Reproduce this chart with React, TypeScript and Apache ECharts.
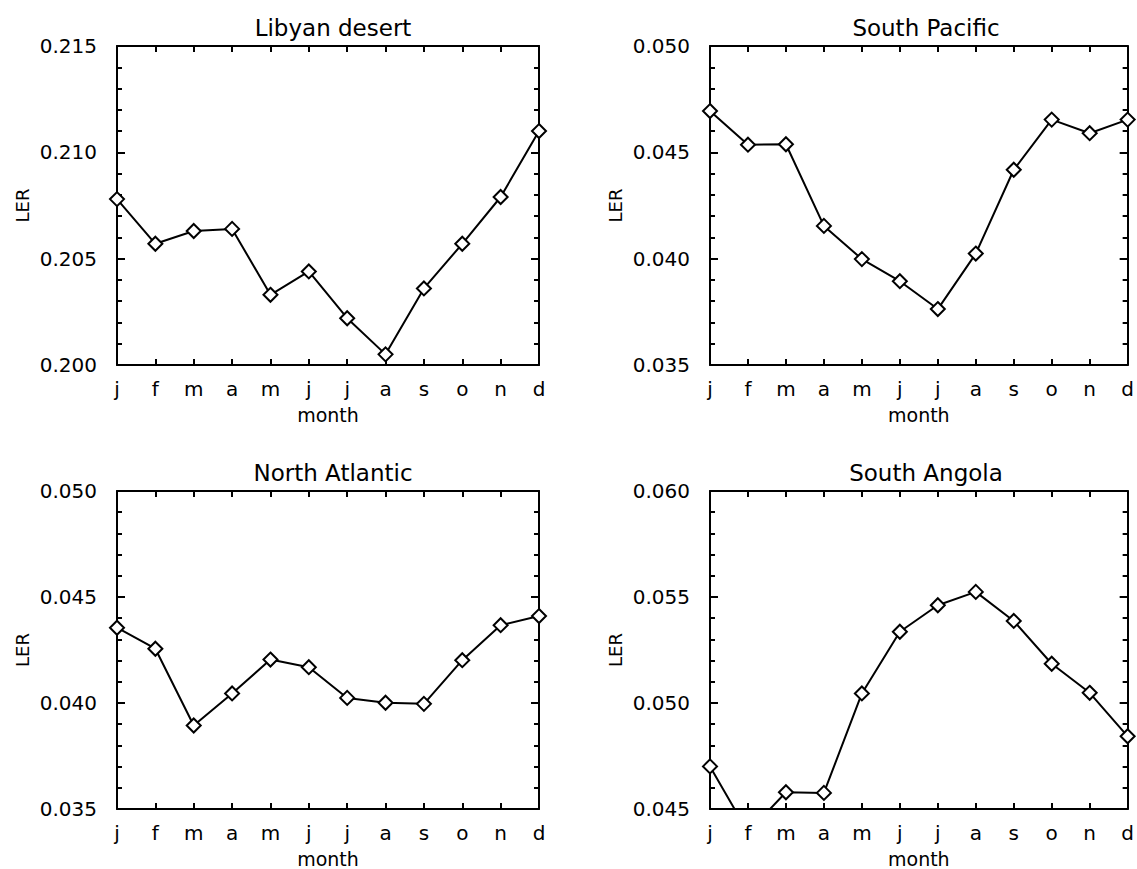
import React, { useEffect, useRef } from "react";
import * as echarts from "echarts";

const months = ["j", "f", "m", "a", "m", "j", "j", "a", "s", "o", "n", "d"];

const titles = ["Libyan desert", "South Pacific", "North Atlantic", "South Angola"];

const libyan = [0.2078, 0.2057, 0.2063, 0.2064, 0.2033, 0.2044, 0.2022, 0.2005, 0.2036, 0.2057, 0.2079, 0.211];
const southPacific = [0.04694, 0.04536, 0.04538, 0.04154, 0.03998, 0.03894, 0.03763, 0.04024, 0.04418, 0.04654, 0.0459, 0.04654];
const northAtlantic = [0.04355, 0.04256, 0.03894, 0.04045, 0.04205, 0.04169, 0.04024, 0.04001, 0.03996, 0.04202, 0.04367, 0.0441];
const southAngola = [0.04701, 0.0439, 0.04579, 0.04576, 0.05045, 0.05336, 0.05461, 0.05524, 0.05387, 0.05185, 0.05048, 0.04843];

const yMins = [0.2, 0.035, 0.035, 0.045];
const yMaxs = [0.215, 0.05, 0.05, 0.06];
const yInterval = 0.005;

const allData = [libyan, southPacific, northAtlantic, southAngola];

const FONT = "DejaVu Sans";

export default function App() {
  const ref = useRef<HTMLDivElement>(null);
  useEffect(() => {
    if (!ref.current) return;
    const chart = echarts.init(ref.current, null, { renderer: "svg" });

    const gridPos = [
      { left: 117, top: 46 },
      { left: 710, top: 46 },
      { left: 117, top: 491 },
      { left: 710, top: 491 },
    ];
    const W = 422;
    const H = 319;

    const grids: any[] = [];
    const xAxes: any[] = [];
    const yAxes: any[] = [];
    const series: any[] = [];
    const titleArr: any[] = [];

    const axisLine = { show: true, onZero: false, lineStyle: { color: "#000", width: 2 } };

    gridPos.forEach((g, i) => {
      grids.push({ left: g.left, top: g.top, width: W, height: H, containLabel: false });
      titleArr.push({
        text: titles[i],
        left: g.left + W / 2,
        textAlign: "center",
        top: g.top - 35,
        textStyle: { fontFamily: FONT, fontSize: 23, fontWeight: "normal", color: "#000" },
      });
      xAxes.push({
        type: "category",
        gridIndex: i,
        position: "bottom",
        data: months,
        boundaryGap: false,
        axisLine,
        axisTick: { show: true, inside: true, length: 6, lineStyle: { color: "#000", width: 2 } },
        axisLabel: { show: true, interval: 0, margin: 14, fontFamily: FONT, fontSize: 20, color: "#000" },
        splitLine: { show: false },
        name: "month",
        nameLocation: "middle",
        nameGap: 40,
        nameTextStyle: { fontFamily: FONT, fontSize: 19, color: "#000" },
      });
      xAxes.push({
        type: "category",
        gridIndex: i,
        position: "top",
        data: months,
        boundaryGap: false,
        axisLine,
        axisTick: { show: true, inside: true, length: 6, lineStyle: { color: "#000", width: 2 } },
        axisLabel: { show: false },
        splitLine: { show: false },
      });
      const yCommon = {
        type: "value",
        gridIndex: i,
        min: yMins[i],
        max: yMaxs[i],
        interval: yInterval,
        axisLine,
        axisTick: { show: true, inside: true, length: 8, lineStyle: { color: "#000", width: 2 } },
        minorTick: { show: true, splitNumber: 5, length: 5, lineStyle: { color: "#000", width: 2 } },
        splitLine: { show: false },
        minorSplitLine: { show: false },
      };
      yAxes.push({
        ...yCommon,
        position: "left",
        axisLabel: {
          show: true,
          margin: 20,
          fontFamily: FONT,
          fontSize: 20,
          color: "#000",
          formatter: (v: number) => v.toFixed(3),
        },
        name: "LER",
        nameLocation: "middle",
        nameRotate: 90,
        nameGap: 86,
        nameTextStyle: { fontFamily: FONT, fontSize: 18, color: "#000" },
      });
      yAxes.push({
        ...yCommon,
        position: "right",
        axisLabel: { show: false },
      });
      series.push({
        type: "line",
        xAxisIndex: i * 2,
        yAxisIndex: i * 2,
        data: allData[i],
        clip: true,
        symbol: "emptyDiamond",
        symbolSize: 14,
        lineStyle: { color: "#000", width: 2 },
        itemStyle: { color: "#000", borderWidth: 2 },
      });
    });

    chart.setOption({
      animation: false,
      backgroundColor: "#fff",
      title: titleArr,
      grid: grids,
      xAxis: xAxes,
      yAxis: yAxes,
      series,
    });
    return () => chart.dispose();
  }, []);

  return (
    <div
      ref={ref}
      style={{ position: "fixed", left: 0, top: 0, width: 1137, height: 869, background: "#fff" }}
    />
  );
}
